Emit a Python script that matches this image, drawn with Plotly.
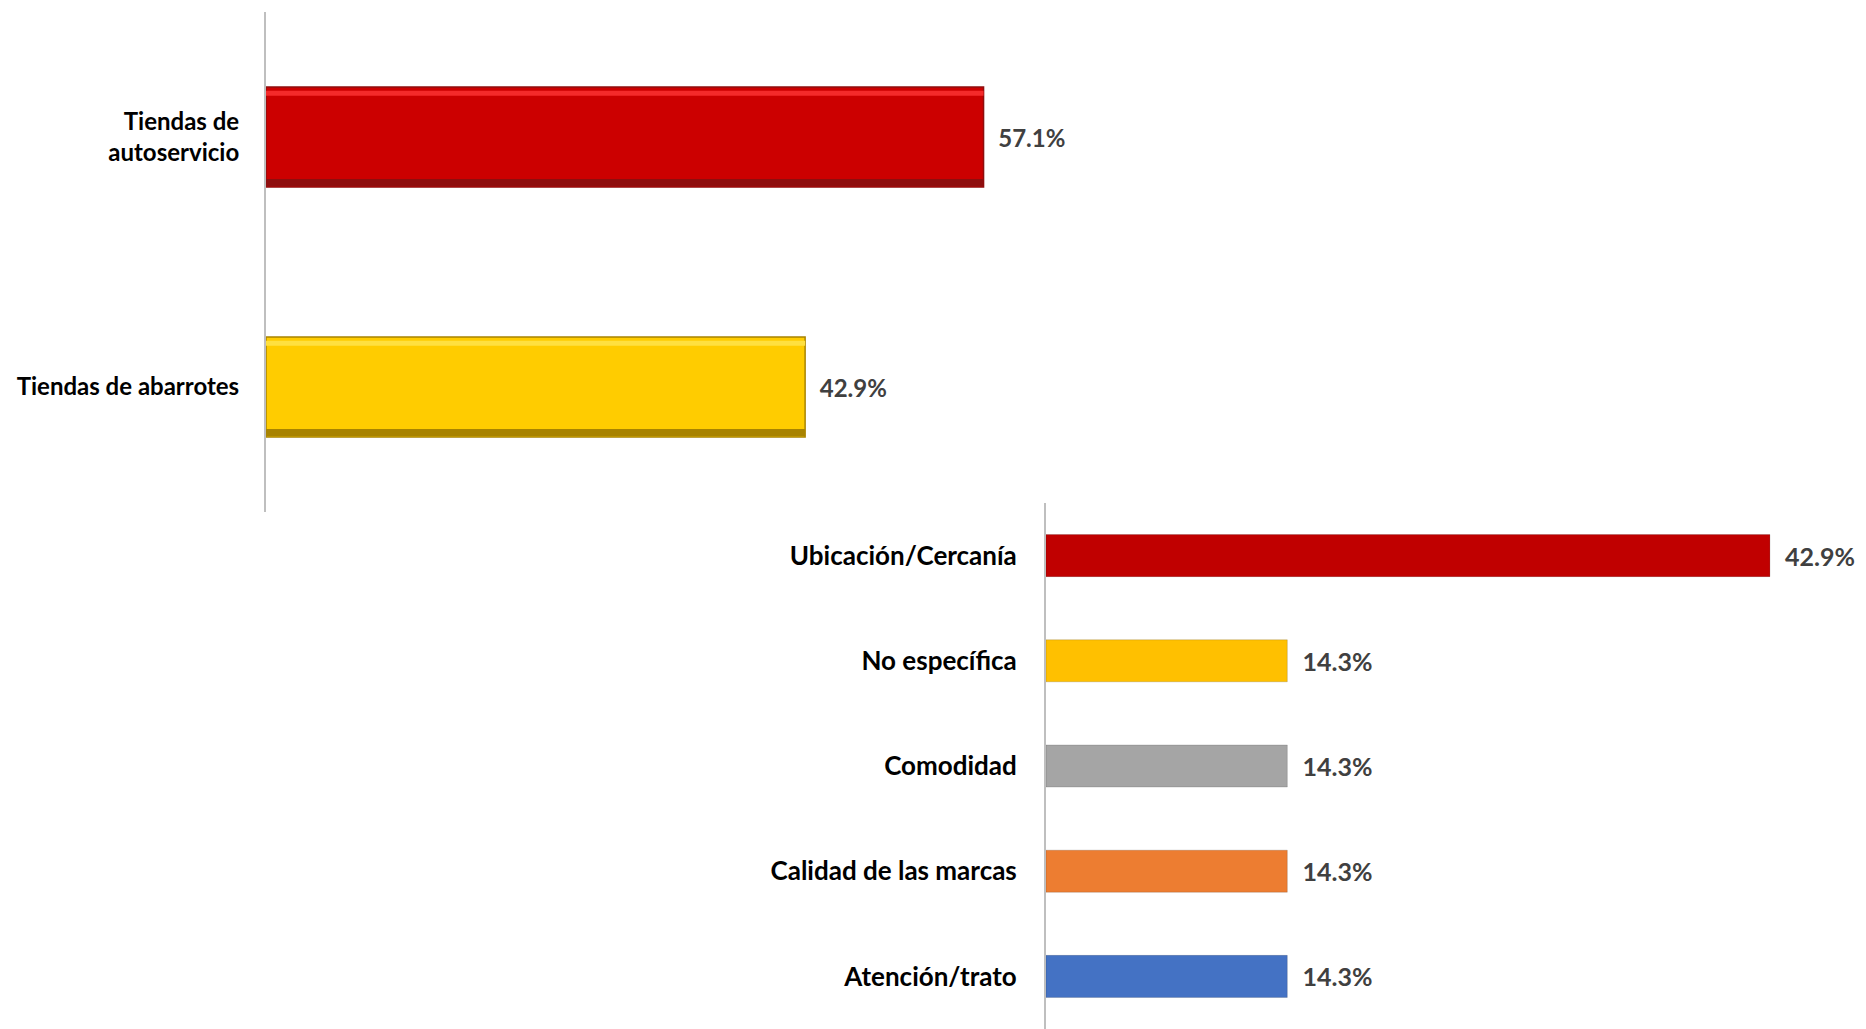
import plotly.graph_objects as go

# datos
canales = ["Tiendas de<br>autoservicio", "Tiendas de abarrotes"]
canal_pct = [57.1, 42.9]
canal_colores = ["#CC0000", "#FFCC00"]
canal_brillo = ["#F42A2A", "#FFE040"]
canal_sombra = ["#8E0E0E", "#A88300"]

motivos = ["Ubicación/Cercanía", "No específica", "Comodidad",
           "Calidad de las marcas", "Atención/trato"]
motivo_pct = [42.9, 14.3, 14.3, 14.3, 14.3]
motivo_colores = ["#C00000", "#FFC000", "#A5A5A5", "#ED7D31", "#4472C4"]

W, H = 1866, 1029
FUENTE = "Lato"
NBSP = "\u00a0"

fig = go.Figure()

# Canal de compra (arriba)
fig.add_trace(go.Bar(
    x=canal_pct, y=canales, orientation="h",
    marker=dict(color=canal_colores, line=dict(color=canal_sombra, width=1.5)),
    width=0.4,
    text=[f"{NBSP*2}{v:.1f}%" for v in canal_pct],
    textposition="outside", cliponaxis=False,
    textfont=dict(family=FUENTE, size=24, color="#404040", weight="bold"),
    xaxis="x", yaxis="y", showlegend=False, hoverinfo="x+y",
))
# efecto de bisel: franja clara arriba y oscura abajo
fig.add_trace(go.Bar(
    x=canal_pct, y=canales, orientation="h", base=0,
    marker=dict(color=canal_brillo, line=dict(width=0)),
    width=0.02, offset=-0.185,
    xaxis="x", yaxis="y", showlegend=False, hoverinfo="skip",
))
fig.add_trace(go.Bar(
    x=canal_pct, y=canales, orientation="h", base=0,
    marker=dict(color=canal_sombra, line=dict(width=0)),
    width=0.028, offset=0.168,
    xaxis="x", yaxis="y", showlegend=False, hoverinfo="skip",
))

# Motivo (abajo)
fig.add_trace(go.Bar(
    x=motivo_pct, y=motivos, orientation="h",
    marker=dict(color=motivo_colores, line=dict(color="rgba(0,0,0,0.15)", width=1)),
    width=0.4,
    text=[f"{NBSP*2}{v:.1f}%" for v in motivo_pct],
    textposition="outside", cliponaxis=False,
    textfont=dict(family=FUENTE, size=25, color="#404040", weight="bold"),
    xaxis="x2", yaxis="y2", showlegend=False, hoverinfo="x+y",
))

fig.update_layout(
    width=W, height=H,
    margin=dict(l=0, r=0, t=0, b=0),
    paper_bgcolor="white", plot_bgcolor="rgba(0,0,0,0)",
    font=dict(family=FUENTE, color="black"),
    barmode="overlay",
    xaxis=dict(domain=[266 / W, 1020 / W], range=[0, 60], visible=False, fixedrange=True),
    yaxis=dict(domain=[1 - 512 / H, 1 - 12 / H], anchor="x", autorange="reversed",
               showline=True, linecolor="#BFBFBF", linewidth=2, ticks="",
               ticklabelstandoff=20, showgrid=False, zeroline=False,
               tickfont=dict(family=FUENTE, size=24, color="black", weight="bold")),
    xaxis2=dict(domain=[1046 / W, 1856 / W], range=[0, 48], visible=False,
                anchor="y2", fixedrange=True),
    yaxis2=dict(domain=[0, 1 - 503 / H], anchor="x2", autorange="reversed",
                showline=True, linecolor="#BFBFBF", linewidth=2, ticks="",
                ticklabelstandoff=22, showgrid=False, zeroline=False,
                tickfont=dict(family=FUENTE, size=26, color="black", weight="bold")),
)

fig.write_html("out.html", config={"displayModeBar": False},
               post_script="document.body.style.margin='0';document.body.style.overflow='hidden';")
